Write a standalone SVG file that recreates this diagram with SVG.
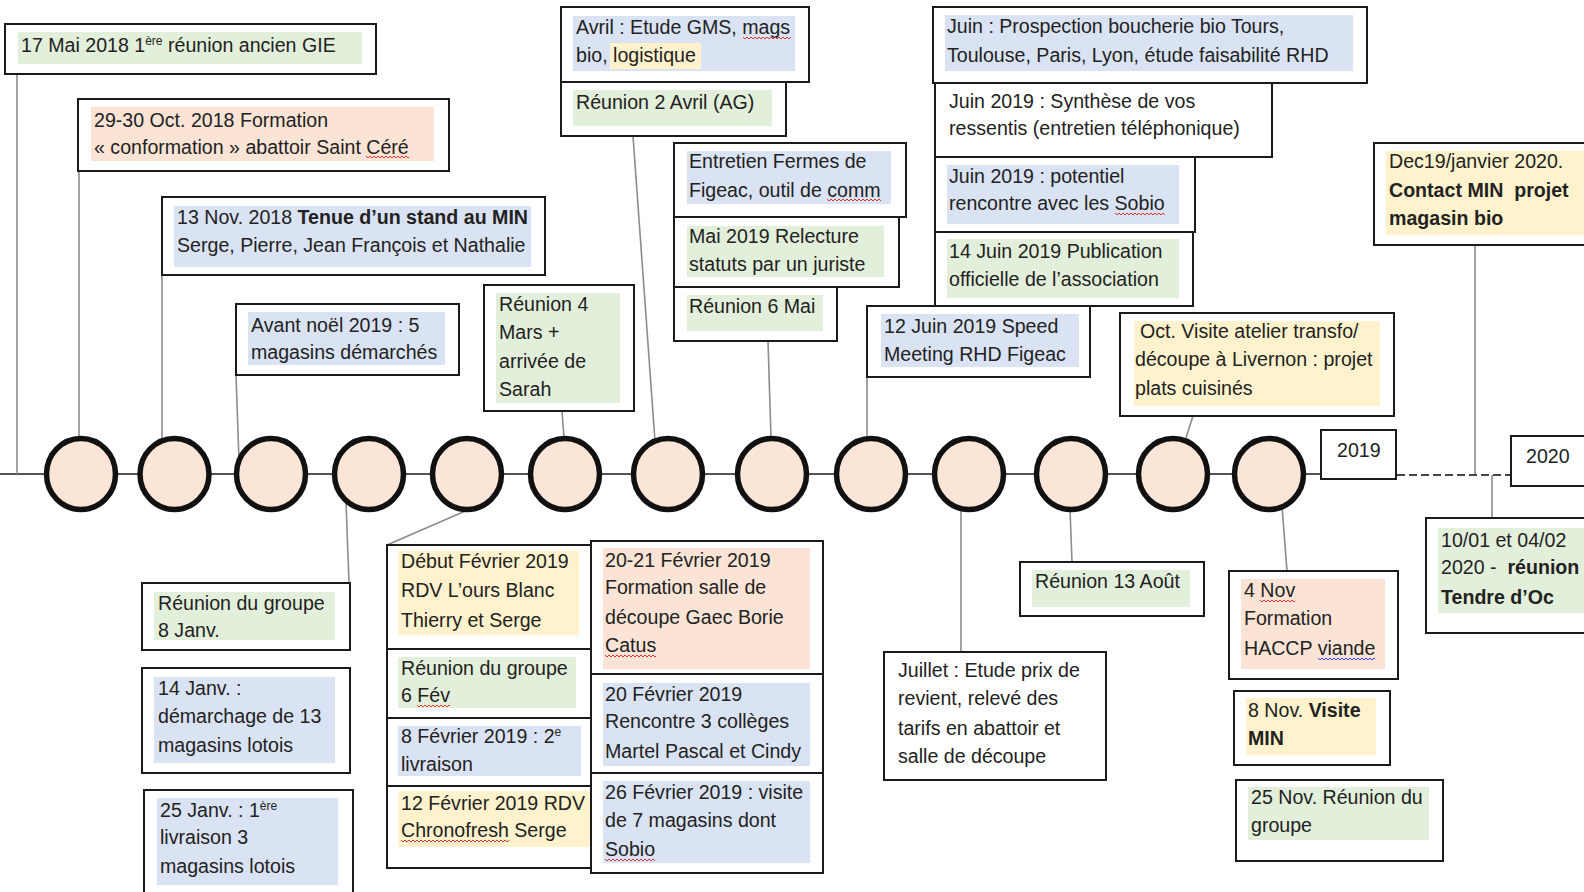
<svg xmlns="http://www.w3.org/2000/svg" width="1584" height="892" viewBox="0 0 1584 892">
<defs>
<pattern id="sqr" width="4" height="4" patternUnits="userSpaceOnUse"><path d="M0 1 L2 3 L4 1" fill="none" stroke="#e02020" stroke-width="0.9"/></pattern>
<pattern id="sqb" width="4" height="4" patternUnits="userSpaceOnUse"><path d="M0 1 L2 3 L4 1" fill="none" stroke="#2a2ae0" stroke-width="0.9"/></pattern>
</defs>
<style>
.box{fill:#fff;stroke:#1a1a1a;stroke-width:2}
.g{fill:#e2efda}.s{fill:#fbe4d5}.b{fill:#dae3f3}.y{fill:#fff2cc}
text{font-family:"Liberation Sans",Arial,sans-serif;font-size:19.6px;fill:#222}
.bd{font-weight:bold}
.sup{font-size:12px}
.c{fill:#fbe5d6;stroke:#111;stroke-width:5.5}
.ln{stroke:#8c8c8c;stroke-width:1.6;fill:none}
.tl{stroke:#555;stroke-width:2.2;fill:none}
.dash{stroke:#444;stroke-width:2.2;stroke-dasharray:8 4;fill:none}
</style>
<rect width="1584" height="892" fill="#fff"/>
<g id="connectors">
<line class="tl" x1="0" y1="474" x2="1321" y2="474"/>
<line class="dash" x1="1397" y1="475" x2="1511" y2="475"/>
<line class="ln" x1="17" y1="74" x2="17" y2="474"/>
<line class="ln" x1="79" y1="171" x2="79" y2="438"/>
<line class="ln" x1="162" y1="275" x2="162" y2="441"/>
<line class="ln" x1="236" y1="375" x2="239" y2="461"/>
<line class="ln" x1="562" y1="411" x2="564" y2="438"/>
<line class="ln" x1="633" y1="136" x2="655" y2="441"/>
<line class="ln" x1="768" y1="341" x2="771" y2="438"/>
<line class="ln" x1="867" y1="377" x2="867" y2="439"/>
<line class="ln" x1="1193" y1="416" x2="1185" y2="441"/>
<line class="ln" x1="1475" y1="245" x2="1475" y2="474"/>
<line class="ln" x1="1492" y1="475" x2="1492" y2="518"/>
<line class="ln" x1="346" y1="502" x2="349" y2="583"/>
<line class="ln" x1="470" y1="509" x2="387" y2="545"/>
<line class="ln" x1="961" y1="508" x2="961" y2="652"/>
<line class="ln" x1="1070" y1="509" x2="1072" y2="562"/>
<line class="ln" x1="1282" y1="506" x2="1287" y2="571"/>
</g>
<g id="c1"><ellipse class="c" cx="81" cy="474" rx="34.5" ry="35.5"/></g>
<g id="c2"><ellipse class="c" cx="174.5" cy="474" rx="34.5" ry="35.5"/></g>
<g id="c3"><ellipse class="c" cx="271" cy="474" rx="34.5" ry="35.5"/></g>
<g id="c4"><ellipse class="c" cx="369" cy="474" rx="34.5" ry="35.5"/></g>
<g id="c5"><ellipse class="c" cx="467" cy="474" rx="34.5" ry="35.5"/></g>
<g id="c6"><ellipse class="c" cx="565" cy="474" rx="34.5" ry="35.5"/></g>
<g id="c7"><ellipse class="c" cx="668" cy="474" rx="34.5" ry="35.5"/></g>
<g id="c8"><ellipse class="c" cx="772" cy="474" rx="34.5" ry="35.5"/></g>
<g id="c9"><ellipse class="c" cx="871" cy="474" rx="34.5" ry="35.5"/></g>
<g id="c10"><ellipse class="c" cx="969" cy="474" rx="34.5" ry="35.5"/></g>
<g id="c11"><ellipse class="c" cx="1071" cy="474" rx="34.5" ry="35.5"/></g>
<g id="c12"><ellipse class="c" cx="1173" cy="474" rx="34.5" ry="35.5"/></g>
<g id="c13"><ellipse class="c" cx="1269" cy="474" rx="34.5" ry="35.5"/></g>

<g id="n1"><rect class="box" x="5" y="24" width="371" height="50"/><rect class="g" x="18" y="32" width="344" height="32"/>
<text x="21" y="52">17 Mai 2018 1<tspan class="sup" dy="-7">ère</tspan><tspan dy="7"> réunion ancien GIE</tspan></text></g>
<g id="n2"><rect class="box" x="78" y="99" width="371" height="72"/><rect class="s" x="91" y="107" width="343" height="54"/>
<text x="94" y="127">29-30 Oct. 2018 Formation</text><text x="94" y="154">« conformation » abattoir Saint Céré</text>
<g transform="translate(366,155)"><rect fill="url(#sqr)" width="43" height="4"/></g></g>
<g id="n3"><rect class="box" x="162" y="197" width="383" height="78"/><rect class="b" x="174" y="206" width="357" height="61"/>
<text x="177" y="224">13 Nov. 2018 <tspan class="bd">Tenue d’un stand au MIN</tspan></text><text x="177" y="252">Serge, Pierre, Jean François et Nathalie</text></g>
<g id="n4"><rect class="box" x="236" y="304" width="223" height="71"/><rect class="b" x="248" y="312" width="197" height="53"/>
<text x="251" y="332">Avant noël 2019 : 5</text><text x="251" y="359">magasins démarchés</text></g>
<g id="n5"><rect class="box" x="484" y="285" width="150" height="126"/><rect class="g" x="496" y="293" width="124" height="110"/>
<text x="499" y="311">Réunion 4</text><text x="499" y="339">Mars +</text><text x="499" y="368">arrivée de</text><text x="499" y="396">Sarah</text></g>
<g id="n6"><rect class="box" x="561" y="7" width="248" height="75"/><rect class="b" x="573" y="16" width="222" height="55"/><rect class="y" x="610" y="43" width="91" height="26"/>
<text x="576" y="34">Avril : Etude GMS, mags</text><text x="576" y="62">bio, logistique</text>
<g transform="translate(743,36)"><rect fill="url(#sqr)" width="48" height="4"/></g></g>
<g id="n7"><rect class="box" x="561" y="82" width="225" height="54"/><rect class="g" x="573" y="90" width="199" height="36"/>
<text x="576" y="109">Réunion 2 Avril (AG)</text></g>
<g id="n8"><rect class="box" x="674" y="143" width="232" height="74"/><rect class="b" x="687" y="151" width="204" height="53"/>
<text x="689" y="168">Entretien Fermes de</text><text x="689" y="197">Figeac, outil de comm</text>
<g transform="translate(827,198)"><rect fill="url(#sqr)" width="54" height="4"/></g></g>
<g id="n9"><rect class="box" x="674" y="217" width="225" height="70"/><rect class="g" x="687" y="226" width="197" height="51"/>
<text x="689" y="243">Mai 2019 Relecture</text><text x="689" y="271">statuts par un juriste</text></g>
<g id="n10"><rect class="box" x="674" y="287" width="163" height="54"/><rect class="g" x="687" y="295" width="136" height="36"/>
<text x="689" y="313">Réunion 6 Mai</text></g>
<g id="n11"><rect class="box" x="867" y="306" width="223" height="71"/><rect class="b" x="881" y="314" width="198" height="53"/>
<text x="884" y="333">12 Juin 2019 Speed</text><text x="884" y="361">Meeting RHD Figeac</text></g>
<g id="n12"><rect class="box" x="933" y="7" width="434" height="76"/><rect class="b" x="945" y="15" width="408" height="56"/>
<text x="947" y="33">Juin : Prospection boucherie bio Tours,</text><text x="947" y="62">Toulouse, Paris, Lyon, étude faisabilité RHD</text></g>
<g id="n13"><rect class="box" x="935" y="83" width="337" height="74"/>
<text x="949" y="108">Juin 2019 : Synthèse de vos</text><text x="949" y="135">ressentis (entretien téléphonique)</text></g>
<g id="n14"><rect class="box" x="935" y="157" width="260" height="75"/><rect class="b" x="947" y="165" width="232" height="59"/>
<text x="949" y="183">Juin 2019 : potentiel</text><text x="949" y="210">rencontre avec les Sobio</text>
<g transform="translate(1115,212)"><rect fill="url(#sqr)" width="50" height="4"/></g></g>
<g id="n15"><rect class="box" x="935" y="232" width="258" height="74"/><rect class="g" x="947" y="239" width="232" height="59"/>
<text x="949" y="258">14 Juin 2019 Publication</text><text x="949" y="286">officielle de l’association</text></g>
<g id="n16"><rect class="box" x="1120" y="313" width="274" height="103"/><rect class="y" x="1134" y="321" width="246" height="85"/>
<text x="1140" y="338">Oct. Visite atelier transfo/</text><text x="1135" y="366">découpe à Livernon : projet</text><text x="1135" y="395">plats cuisinés</text></g>
<g id="n17"><rect class="box" x="1374" y="143" width="216" height="102"/><rect class="y" x="1386" y="151" width="204" height="84"/>
<text x="1389" y="168">Dec19/janvier 2020.</text><text x="1389" y="197" class="bd" xml:space="preserve">Contact MIN  projet</text><text x="1389" y="225" class="bd">magasin bio</text></g>
<g id="n18"><rect class="box" x="1321" y="430" width="75" height="49"/><text x="1337" y="457">2019</text></g>
<g id="n19"><rect class="box" x="1511" y="436" width="79" height="50"/><text x="1526" y="463">2020</text></g>
<g id="n20"><rect class="box" x="142" y="583" width="208" height="67"/><rect class="g" x="154" y="592" width="181" height="48"/>
<text x="158" y="610">Réunion du groupe</text><text x="158" y="637">8 Janv.</text></g>
<g id="n21"><rect class="box" x="142" y="668" width="208" height="105"/><rect class="b" x="154" y="677" width="181" height="86"/>
<text x="158" y="695">14 Janv. :</text><text x="158" y="723">démarchage de 13</text><text x="158" y="752">magasins lotois</text></g>
<g id="n22"><rect class="box" x="144" y="790" width="209" height="112"/><rect class="b" x="157" y="798" width="181" height="87"/>
<text x="160" y="817">25 Janv. : 1<tspan class="sup" dy="-7">ère</tspan></text><text x="160" y="844">livraison 3</text><text x="160" y="873">magasins lotois</text></g>
<g id="n23"><rect class="box" x="387" y="545" width="204" height="104"/><rect class="y" x="398" y="551" width="181" height="84"/>
<text x="401" y="568">Début Février 2019</text><text x="401" y="597">RDV L’ours Blanc</text><text x="401" y="627">Thierry et Serge</text></g>
<g id="n24"><rect class="box" x="387" y="649" width="204" height="69"/><rect class="g" x="398" y="657" width="178" height="51"/>
<text x="401" y="675">Réunion du groupe</text><text x="401" y="702">6 Fév</text>
<g transform="translate(417,704)"><rect fill="url(#sqr)" width="33" height="4"/></g></g>
<g id="n25"><rect class="box" x="387" y="718" width="204" height="68"/><rect class="b" x="398" y="726" width="183" height="50"/>
<text x="401" y="743">8 Février 2019 : 2<tspan class="sup" dy="-7">e</tspan></text><text x="401" y="771">livraison</text></g>
<g id="n26"><rect class="box" x="387" y="786" width="204" height="82"/><rect class="y" x="398" y="791" width="192" height="56"/>
<text x="401" y="810">12 Février 2019 RDV</text><text x="401" y="837">Chronofresh Serge</text>
<g transform="translate(401,839)"><rect fill="url(#sqr)" width="108" height="4"/></g></g>
<g id="n27"><rect class="box" x="591" y="541" width="232" height="133"/><rect class="s" x="603" y="548" width="207" height="121"/>
<text x="605" y="567">20-21 Février 2019</text><text x="605" y="594">Formation salle de</text><text x="605" y="624">découpe Gaec Borie</text><text x="605" y="652">Catus</text>
<g transform="translate(605,654)"><rect fill="url(#sqr)" width="51" height="4"/></g></g>
<g id="n28"><rect class="box" x="591" y="674" width="232" height="99"/><rect class="b" x="603" y="683" width="207" height="83"/>
<text x="605" y="701">20 Février 2019</text><text x="605" y="728">Rencontre 3 collèges</text><text x="605" y="758">Martel Pascal et Cindy</text></g>
<g id="n29"><rect class="box" x="591" y="773" width="232" height="100"/><rect class="b" x="603" y="781" width="207" height="82"/>
<text x="605" y="799">26 Février 2019 : visite</text><text x="605" y="827">de 7 magasins dont</text><text x="605" y="856">Sobio</text>
<g transform="translate(605,858)"><rect fill="url(#sqr)" width="50" height="4"/></g></g>
<g id="n30"><rect class="box" x="884" y="652" width="222" height="128"/>
<text x="898" y="677">Juillet : Etude prix de</text><text x="898" y="705">revient, relevé des</text><text x="898" y="735">tarifs en abattoir et</text><text x="898" y="763">salle de découpe</text></g>
<g id="n31"><rect class="box" x="1020" y="562" width="184" height="54"/><rect class="g" x="1032" y="570" width="158" height="37"/>
<text x="1035" y="588">Réunion 13 Août</text></g>
<g id="n32"><rect class="box" x="1229" y="571" width="169" height="108"/><rect class="s" x="1241" y="579" width="144" height="90"/>
<text x="1244" y="597">4 Nov</text><text x="1244" y="625">Formation</text><text x="1244" y="655">HACCP viande</text>
<g transform="translate(1260,599)"><rect fill="url(#sqr)" width="35" height="4"/></g>
<g transform="translate(1318,657)"><rect fill="url(#sqb)" width="57" height="4"/></g></g>
<g id="n33"><rect class="box" x="1234" y="691" width="156" height="74"/><rect class="y" x="1246" y="698" width="130" height="57"/>
<text x="1248" y="717">8 Nov. <tspan class="bd">Visite</tspan></text><text x="1248" y="745" class="bd">MIN</text></g>
<g id="n34"><rect class="box" x="1236" y="780" width="207" height="81"/><rect class="g" x="1248" y="787" width="181" height="53"/>
<text x="1251" y="804">25 Nov. Réunion du</text><text x="1251" y="832">groupe</text></g>
<g id="n35"><rect class="box" x="1426" y="518" width="164" height="115"/><rect class="g" x="1438" y="528" width="152" height="85"/>
<text x="1441" y="547">10/01 et 04/02</text><text x="1441" y="574" xml:space="preserve">2020 -  <tspan class="bd">réunion</tspan></text><text x="1441" y="604" class="bd">Tendre d’Oc</text></g>
</svg>
